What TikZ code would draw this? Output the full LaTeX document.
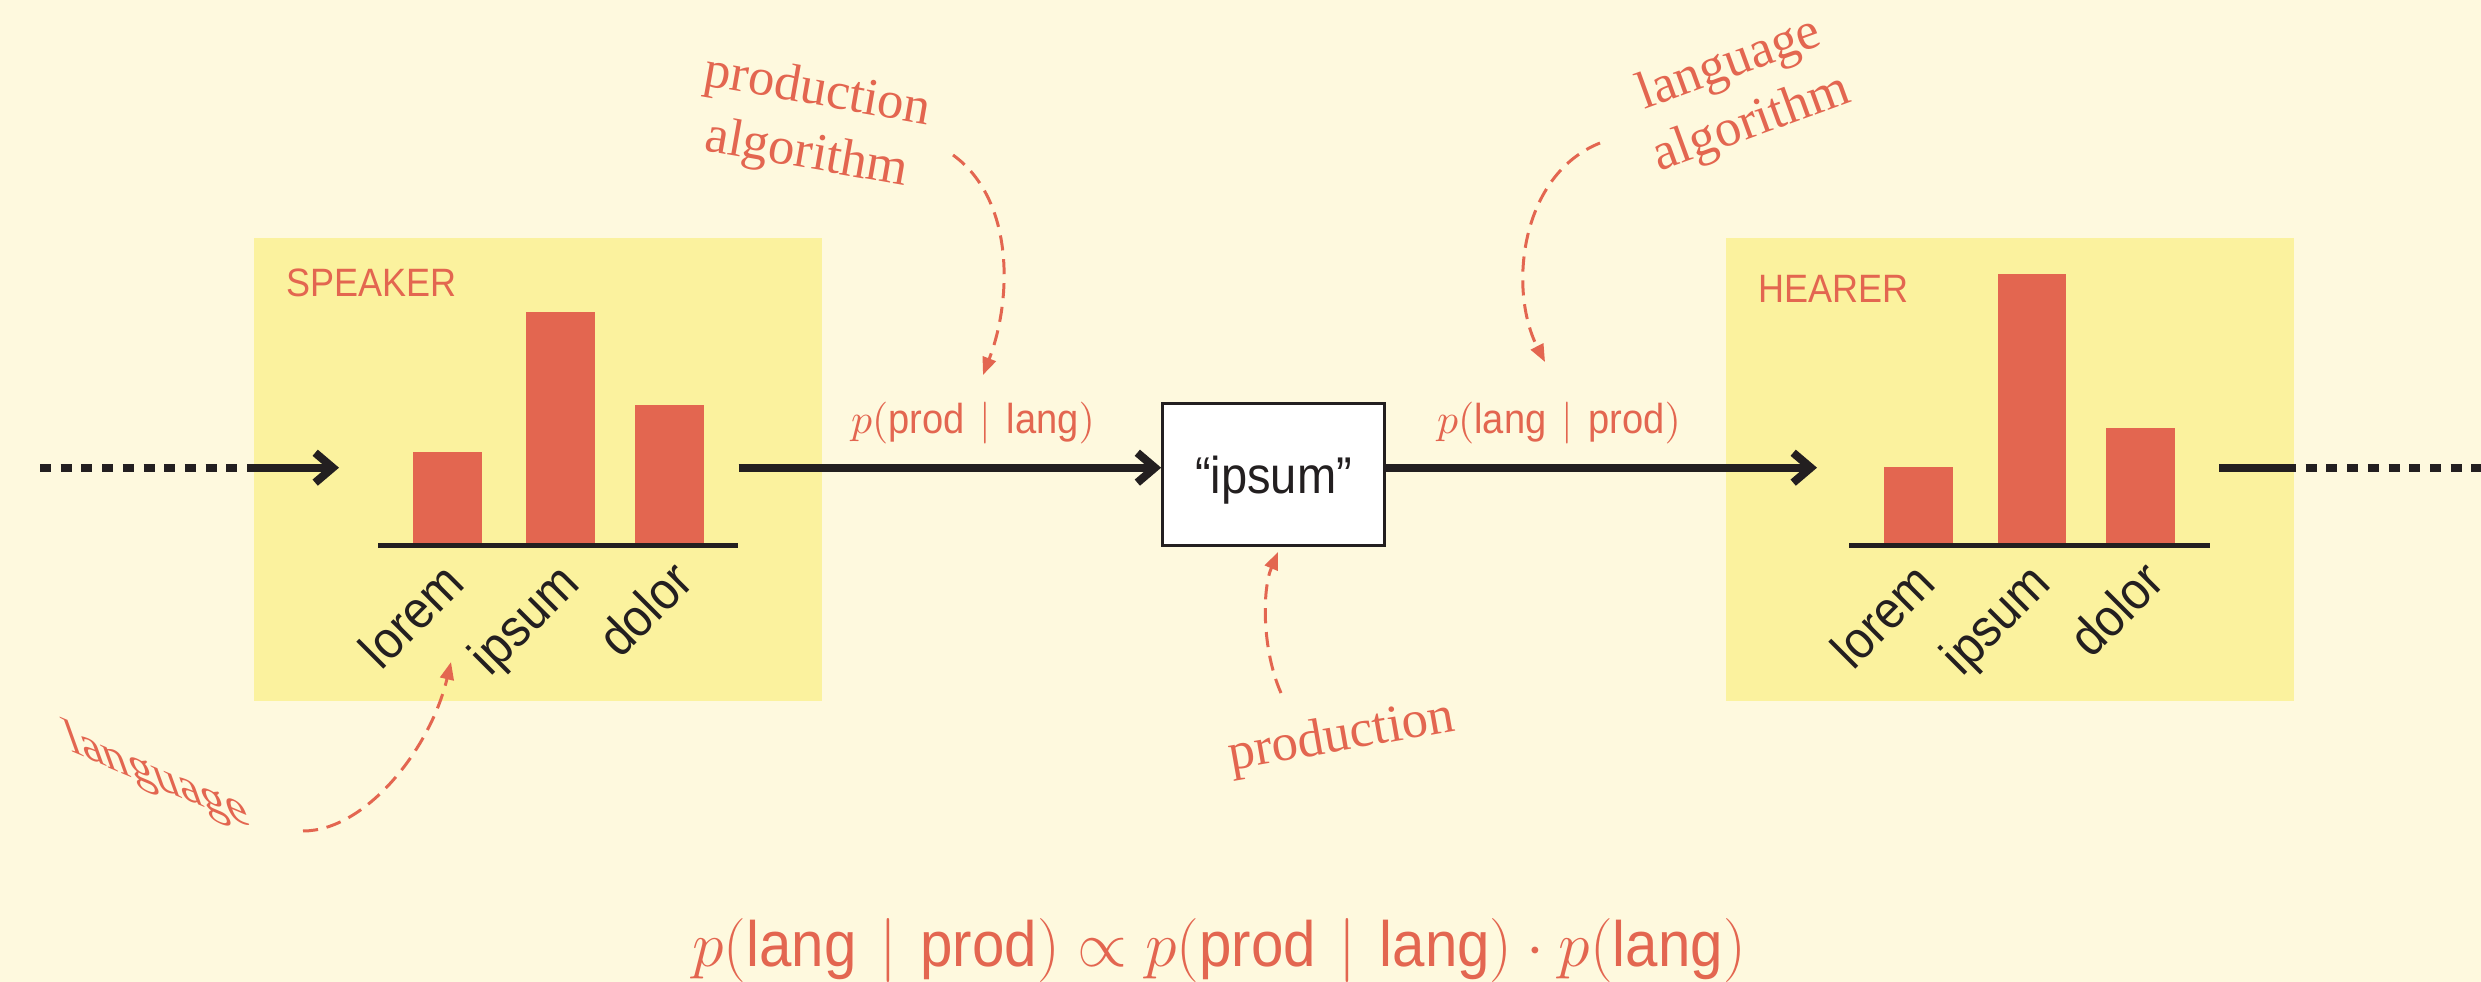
\RequirePackage{fix-cm}
\documentclass[tikz,border=0pt]{standalone}
\usepackage{fontspec}
\newfontfamily\lab{Liberation Sans}[FakeStretch=0.91]
\newfontfamily\anno{Liberation Serif}
\usetikzlibrary{arrows.meta,calc}
\definecolor{bg}{RGB}{254,249,222}
\definecolor{boxy}{RGB}{251,242,158}
\definecolor{redd}{RGB}{227,102,80}
\definecolor{ink}{RGB}{35,31,32}
\newcommand\tx[1]{\mbox{\lab #1}}
\newcommand\given{\mkern1.5mu\mid\mkern1.5mu}
\begin{document}
\begin{tikzpicture}[x=0.01cm,y=-0.01cm,
  panel/.style={fill=boxy, draw=none, inner sep=0, minimum width=5.671cm, minimum height=4.627cm},
  bar/.style={fill=redd, draw=none, inner sep=0, minimum width=0.688cm, anchor=south},
  axisline/.style={draw=ink, line width=1.42pt},
  tick/.style={font=\lab\fontsize{15}{17}\selectfont, text=ink, rotate=45, anchor=base east, inner sep=0},
  title/.style={font=\lab\fontsize{11.25}{13}\selectfont, text=redd, anchor=base west, inner sep=0},
  flow/.style={draw=ink, line width=2.3pt, -{Straight Barb[length=5pt,width=8.5pt]}},
  solidline/.style={draw=ink, line width=2.3pt},
  dots/.style={draw=ink, line width=2.3pt, dash pattern=on 3.13pt off 2.76pt},
  mlab/.style={font=\lab\fontsize{11.9}{14}\selectfont, text=redd, anchor=base, inner sep=0},
  eq/.style={font=\lab\fontsize{18.2}{22}\selectfont, text=redd, anchor=base, inner sep=0},
  note/.style={font=\anno\fontsize{15}{17}\selectfont, text=redd, align=center, inner sep=0},
  pointer/.style={draw=redd, line width=0.85pt, dash pattern=on 4.3pt off 2.5pt, -{Triangle[length=5pt,width=3.9pt]}},
  wordbox/.style={draw=ink, fill=white, line width=0.85pt, inner sep=0, minimum width=2.22cm, minimum height=1.42cm},
]
% background and bounding box
\fill[bg] (0,0) rectangle (2481,982);
\useasboundingbox (0,0) rectangle (2481,982);

% panels
\node[panel] (speaker) at (538.15,469.35) {};
\node[panel] (hearer) at (2009.9,469.35) {};
\node[title] (stitle) at (286,297) {SPEAKER};
\node[title] (htitle) at (1758,302) {HEARER};

% speaker bars
\node[bar, minimum height=0.928cm] (s1) at (447.2,545.8) {};
\node[bar, minimum height=2.328cm] (s2) at (560.5,545.8) {};
\node[bar, minimum height=1.398cm] (s3) at (669.5,545.8) {};
\coordinate (sax1) at (378.3,545.8);
\coordinate (sax2) at (738.3,545.8);
\draw[axisline] (sax1) -- (sax2);
\node[tick] (sl1) at (467,586) {lorem};
\node[tick] (sl2) at (582,586) {ipsum};
\node[tick] (sl3) at (696,584) {dolor};

% hearer bars
\node[bar, minimum height=0.781cm] (h1) at (1918.5,545.8) {};
\node[bar, minimum height=2.708cm] (h2) at (2032,545.8) {};
\node[bar, minimum height=1.168cm] (h3) at (2140.8,545.8) {};
\coordinate (hax1) at (1849,545.8);
\coordinate (hax2) at (2209.6,545.8);
\draw[axisline] (hax1) -- (hax2);
\node[tick] (hl1) at (1938.5,586) {lorem};
\node[tick] (hl2) at (2053.5,586) {ipsum};
\node[tick] (hl3) at (2167.3,584) {dolor};

% production box
\node[wordbox] (ibox) at (1273.7,474.2) {};
\node[font=\lab\fontsize{14.7}{17}\selectfont, text=ink, anchor=base, inner sep=0] (itext) at (1273.5,493) {“ipsum”};

% flow connectors
\coordinate (lEnd) at (40,467.7);
\coordinate (lMid) at (250,467.7);
\coordinate (lMid2) at (247,467.7);
\coordinate (sIn) at (339,467.7);
\coordinate (sOut) at (738.6,467.7);
\coordinate (hIn) at (1817,467.7);
\coordinate (hOut) at (2219,467.7);
\coordinate (hMid) at (2296,467.7);
\coordinate (rEnd) at (2500,467.7);
\draw[dots] (lEnd) -- (lMid);
\draw[flow] (lMid2) -- (sIn);
\draw[flow] (sOut) -- (sOut -| ibox.west);
\draw[flow] (sOut -| ibox.east) -- (hIn);
\draw[solidline] (hOut) -- (hMid);
\draw[dots, dash phase=3.13pt] (hMid) -- (rEnd);

% probability labels
\node[mlab] (pprod) at (973,433) {$p(\tx{prod}\given\tx{lang})$};
\node[mlab] (plang) at (1559,433) {$p(\tx{lang}\given\tx{prod})$};

% annotations
\node[note, rotate=-10] (palg) at (812,124) {production\\[1.2pt]algorithm};
\node[note, rotate=20] (lalg) at (1741,95) {language\\[1.2pt]algorithm};
\node[note, font=\anno\fontsize{14.3}{17}\selectfont, cm={1,-0.42,-0.36,1,(0,0)}] (lang) at (158,778) {language};
\node[note, rotate=10] (prodn) at (1342,738) {production};

\coordinate (pa1) at (953,155);
\coordinate (pa2) at (983,375);
\draw[pointer] (pa1) .. controls (1015,200) and (1012,300) .. (pa2);
\coordinate (la1) at (1600,143);
\coordinate (la2) at (1545,362);
\draw[pointer] (la1) .. controls (1520,175) and (1508,290) .. (la2);
\coordinate (lg1) at (303,831);
\coordinate (lg2) at (451,662);
\draw[pointer] (lg1) .. controls (365,831) and (430,750) .. (lg2);
\coordinate (pr1) at (1281,693);
\coordinate (pr2) at (1278,552);
\draw[pointer] (pr1) .. controls (1262,650) and (1262,590) .. (pr2);

% equation
\node[eq] (eqn) at (1219,966) {$p(\tx{lang}\given\tx{prod}) \propto p(\tx{prod}\given\tx{lang})\cdot p(\tx{lang})$};
\end{tikzpicture}
\end{document}
